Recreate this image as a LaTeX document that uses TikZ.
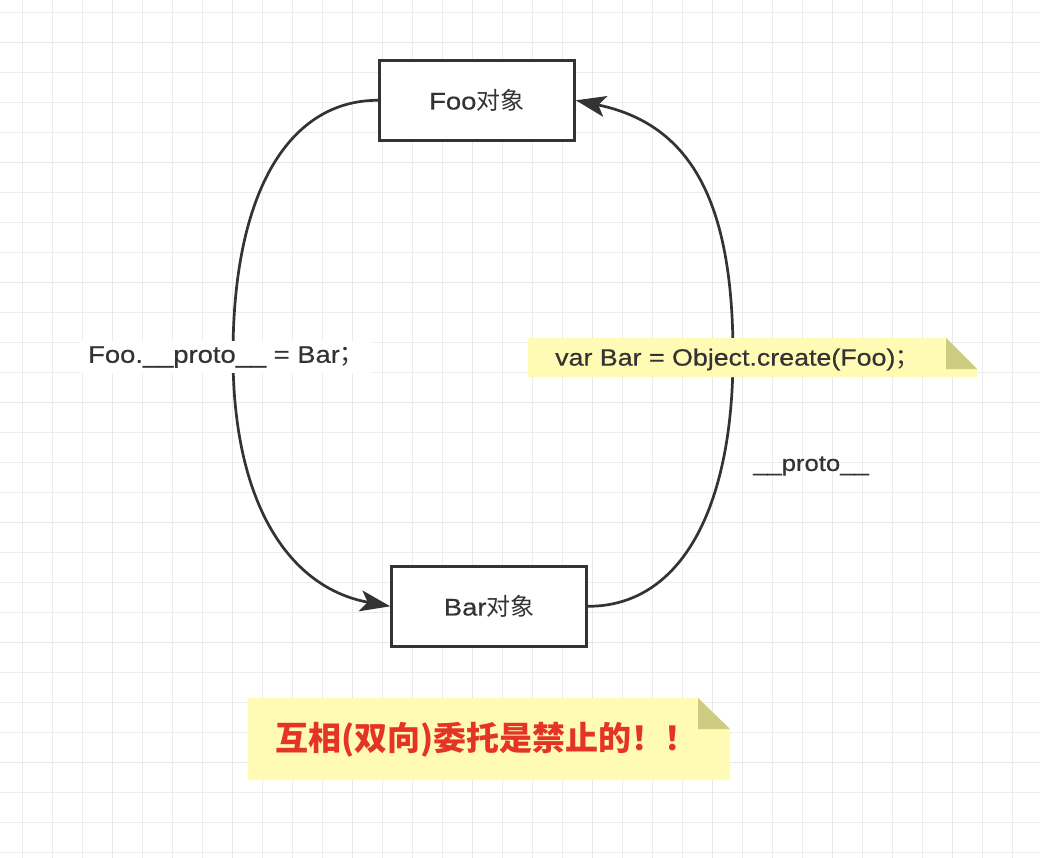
\documentclass[tikz,border=0pt]{standalone}
\usepackage{fontspec}
\setmainfont{Liberation Sans}[FakeStretch=1.14, FakeBold=0.5]
\newfontfamily\cjk{Noto Sans CJK SC}
\usetikzlibrary{arrows.meta}

\definecolor{ink}{RGB}{51,51,51}
\definecolor{gridminor}{RGB}{237,237,237}
\definecolor{gridmajor}{RGB}{232,232,232}
\definecolor{notefill}{RGB}{255,250,180}
\definecolor{notefold}{RGB}{206,203,130}
\definecolor{alertred}{RGB}{228,52,42}

\tikzset{
  objbox/.style={draw=ink, line width=3pt, fill=white, minimum width=195pt,
    minimum height=80pt, inner sep=0pt, text=ink, font=\fontsize{24}{28}\selectfont},
  link/.style={draw=ink, line width=2.7pt,
    -{Stealth[length=30pt, width=21pt, inset=7pt]}},
  plain/.style={text=ink, inner sep=0pt, anchor=west},
}

\begin{document}
\begin{tikzpicture}[x=1pt, y=-1pt]
  % canvas and background grid
  \fill[white] (0,0) rectangle (1040,858);
  \useasboundingbox (0,0) rectangle (1040,858);
  \foreach \x in {22.7,52.7,...,1040} \draw[gridminor, line width=1.3pt] (\x,0) -- (\x,858);
  \foreach \y in {12.7,42.7,...,858} \draw[gridminor, line width=1.3pt] (0,\y) -- (1040,\y);
  \foreach \x in {112.7,232.7,...,1040} \draw[gridmajor, line width=1.5pt] (\x,0) -- (\x,858);
  \foreach \y in {42.7,162.7,...,858} \draw[gridmajor, line width=1.5pt] (0,\y) -- (1040,\y);

  % the two objects
  \node[objbox] (foo) at (476.8,100.3) {Foo{\cjk 对象}};
  \node[objbox] (bar) at (489.2,606.3) {Bar{\cjk 对象}};

  % connectors
  \coordinate (lmid) at (233,355);
  \coordinate (rmid) at (733,355);
  \draw[link] (foo.west) .. controls (290,100.3) and (233,190) .. (lmid)
              .. controls (233,505) and (290,588) .. (bar.west);
  \draw[link] (bar.east) .. controls (680,606.3) and (733,510) .. (rmid)
              .. controls (733,200) and (690,124) .. (foo.east);

  % labels
  \node[plain, fill=white, inner xsep=8pt, inner ysep=5pt, font=\fontsize{24}{28}\selectfont]
    (assign) at (80,357) {Foo.\_\_proto\_\_ = Bar{\cjk ；}};
  \node[plain, font=\fontsize{22.5}{26}\selectfont] (protolbl) at (753,466) {\_\_proto\_\_};

  % note: Object.create
  \fill[notefill] (528,338) -- (946,338) -- (977,369) -- (977,377) -- (528,377) -- cycle;
  \fill[notefold] (946,338) -- (977,369) -- (946,369) -- cycle;
  \node[plain, font=\fontsize{23.5}{27}\selectfont] (create) at (555,359.5)
    {var Bar = Object.create(Foo){\cjk ；}};

  % note: warning
  \fill[notefill] (248,698) -- (698,698) -- (730,729) -- (730,780) -- (248,780) -- cycle;
  \fill[notefold] (698,698) -- (730,729) -- (698,729) -- cycle;
  \node[plain, text=alertred, font=\cjk\bfseries\fontsize{33}{38}\selectfont] (warn) at (275,740)
    {互相(双向)委托是禁止的！！};
\end{tikzpicture}
\end{document}
